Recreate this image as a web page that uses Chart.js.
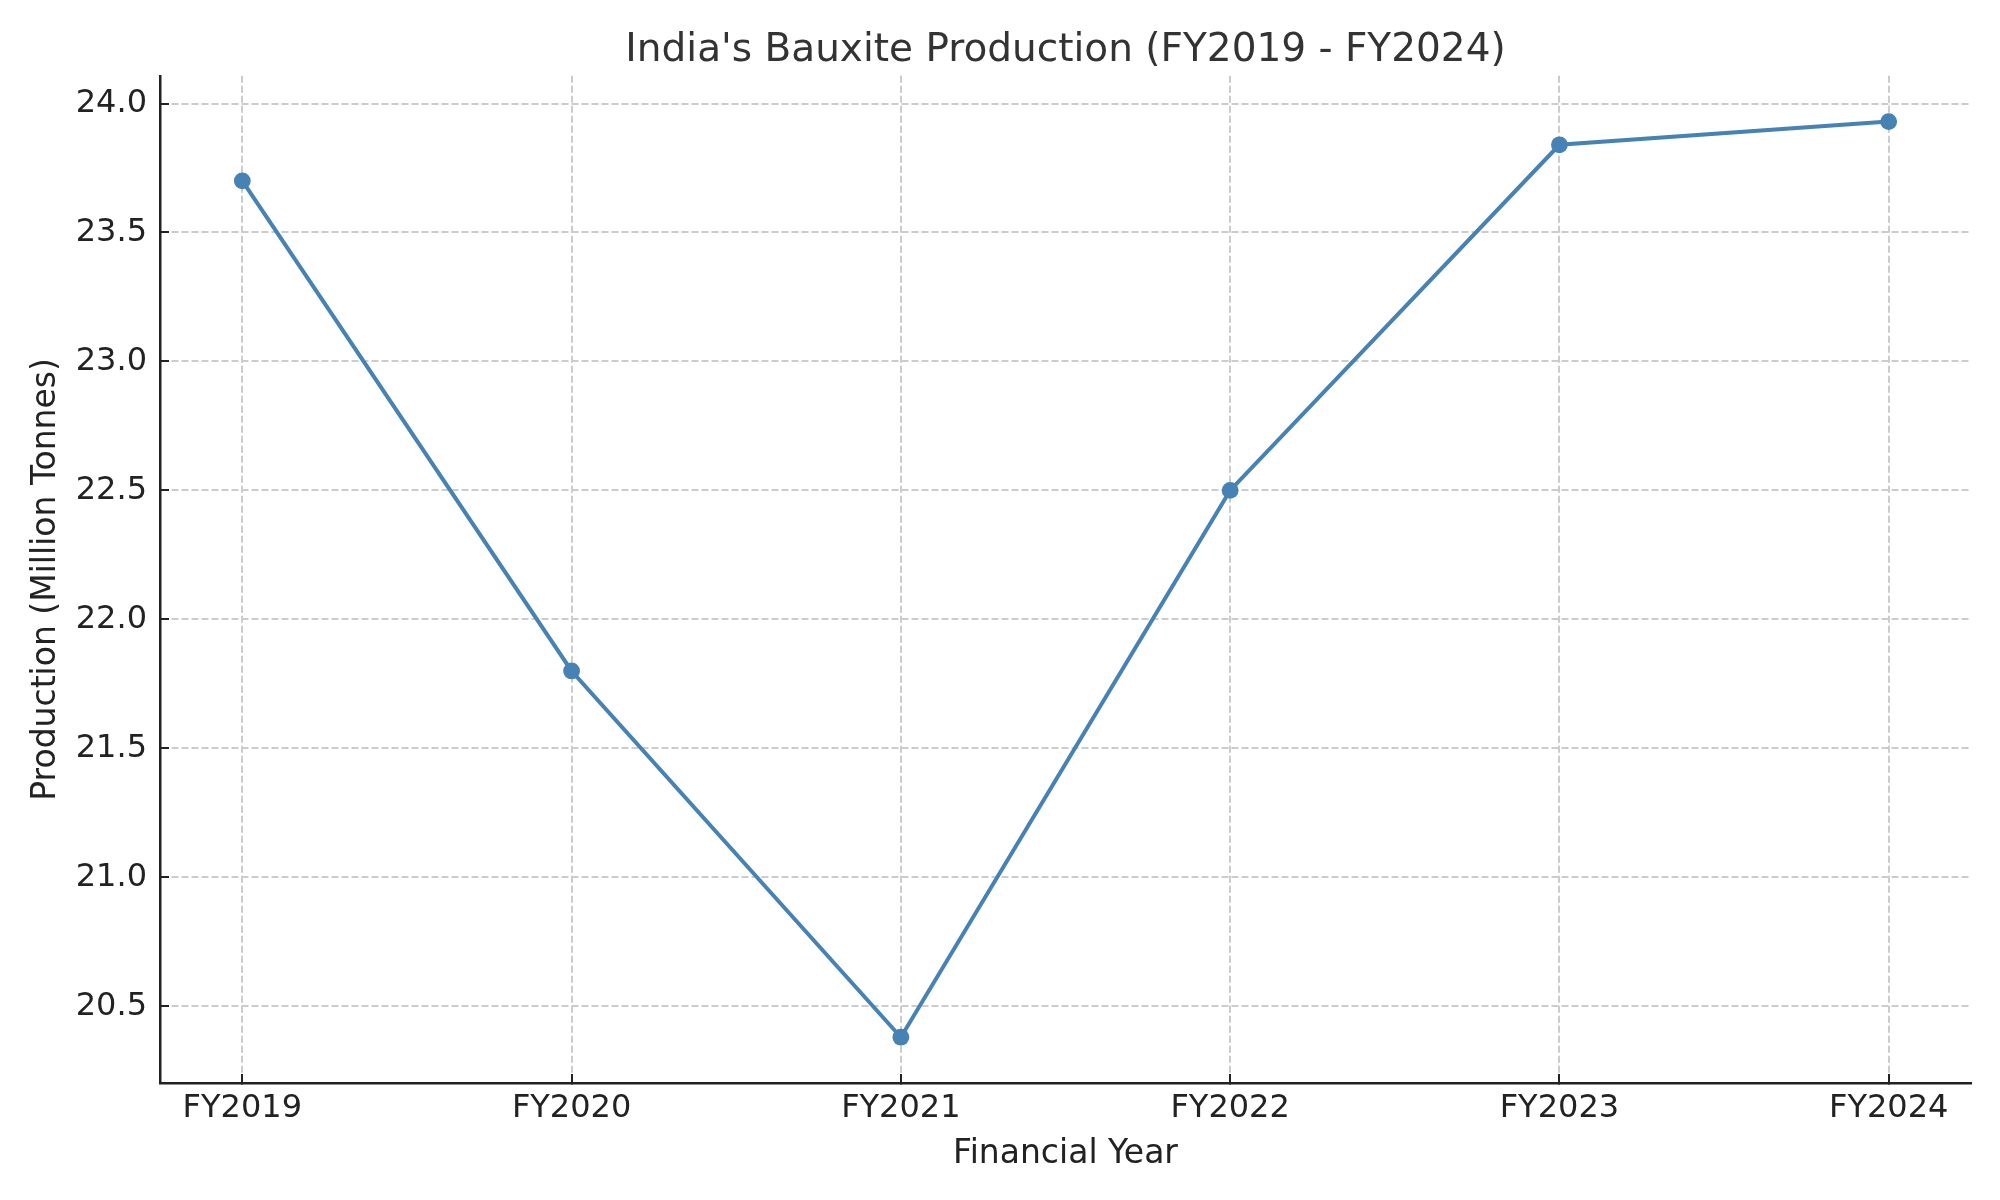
<!DOCTYPE html>
<html>
<head>
<meta charset="utf-8">
<script src="https://cdn.jsdelivr.net/npm/chart.js@4.4.1/dist/chart.umd.min.js"></script>
<style>
  html, body { margin: 0; padding: 0; background: #fff; }
  canvas { display: block; }
</style>
</head>
<body>
<canvas id="chart" width="2000" height="1200" style="width:2000px;height:1200px"></canvas>
<script>
const years = ["FY2019", "FY2020", "FY2021", "FY2022", "FY2023", "FY2024"];
const production = [23.7, 21.8, 20.38, 22.5, 23.84, 23.93]; // million tonnes
const yTicks = [20.5, 21.0, 21.5, 22.0, 22.5, 23.0, 23.5, 24.0];

const FONT = "'DejaVu Sans', 'Liberation Sans', sans-serif";
const LINE = "#4682B4";

// matplotlib-like 5% margins around the data
const lo = Math.min(...production), hi = Math.max(...production);
const pad = (hi - lo) * 0.05;

new Chart(document.getElementById("chart"), {
  type: "line",
  data: {
    datasets: [{
      label: "Production",
      data: production.map((v, i) => ({ x: i, y: v })),
      borderColor: LINE,
      backgroundColor: LINE,
      borderWidth: 4,
      pointRadius: 8.4,
      pointBackgroundColor: LINE,
      pointBorderWidth: 0,
      tension: 0,
      fill: false,
    }],
  },
  options: {
    responsive: false,
    devicePixelRatio: 1,
    animation: false,
    layout: { padding: { left: 0, right: 29, top: 0, bottom: 0 } },
    plugins: {
      legend: { display: false },
      tooltip: { enabled: false },
      title: {
        display: true,
        fullSize: false, // centre over the plot area, not the whole canvas
        text: "India's Bauxite Production (FY2019 - FY2024)",
        color: "#333",
        font: { family: FONT, size: 39, weight: "normal" },
        padding: { top: 27, bottom: 2 },
      },
    },
    scales: {
      x: {
        type: "linear",
        min: -0.25,
        max: years.length - 1 + 0.25,
        afterBuildTicks: (scale) => { scale.ticks = years.map((_, i) => ({ value: i })); },
        afterFit: (scale) => { scale.height = 117; },
        ticks: {
          color: "#222",
          font: { family: FONT, size: 32 },
          padding: 15,
          maxRotation: 0,
          autoSkip: false,
          callback: (v) => years[v],
        },
        grid: {
          color: "#cccccc",
          lineWidth: 2,
          tickLength: -9,
          tickColor: "#222",
          tickWidth: 2,
          tickBorderDash: [],
        },
        border: { display: true, color: "#222", width: 2.5, dash: [7, 3] },
        title: {
          display: true,
          text: "Financial Year",
          color: "#222",
          font: { family: FONT, size: 33 },
          padding: { top: 0, bottom: 26 },
        },
      },
      y: {
        min: lo - pad,
        max: hi + pad,
        afterBuildTicks: (scale) => { scale.ticks = yTicks.map((v) => ({ value: v })); },
        afterFit: (scale) => { scale.width = 160; },
        ticks: {
          color: "#222",
          font: { family: FONT, size: 32 },
          padding: 22,
          callback: (v) => Number(v).toFixed(1),
        },
        grid: {
          color: "#cccccc",
          lineWidth: 2,
          tickLength: -9,
          tickColor: "#222",
          tickWidth: 2,
          tickBorderDash: [],
        },
        border: { display: true, color: "#222", width: 2.5, dash: [7, 3] },
        title: {
          display: true,
          text: "Production (Million Tonnes)",
          color: "#222",
          font: { family: FONT, size: 33 },
          padding: { top: 27, bottom: 0 },
        },
      },
    },
  },
});
</script>
</body>
</html>
